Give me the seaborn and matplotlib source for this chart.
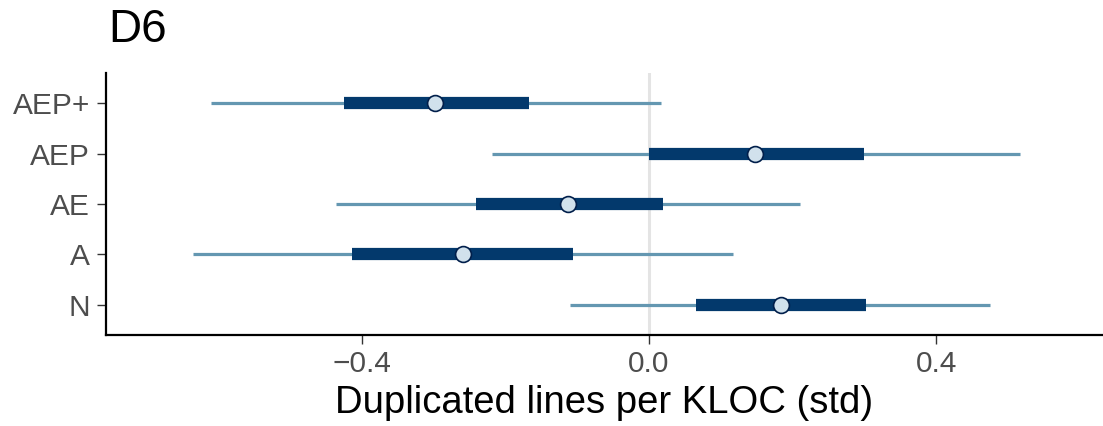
import numpy as np
import pandas as pd
import matplotlib
matplotlib.use("Agg")
import matplotlib.pyplot as plt
import seaborn as sns

# Posterior summaries per model variant (standardised effect)
models = ["AEP+", "AEP", "AE", "A", "N"]
median = [-0.298, 0.148, -0.113, -0.259, 0.184]
inner_lo = [-0.425, 0.000, -0.241, -0.414, 0.066]
inner_hi = [-0.167, 0.299, 0.019, -0.106, 0.302]
outer_lo = [-0.610, -0.218, -0.436, -0.635, -0.110]
outer_hi = [0.016, 0.517, 0.210, 0.117, 0.475]

xticks = [-0.4, 0.0, 0.4]
xtick_labels = ["\u22120.4", "0.0", "0.4"]

df = pd.DataFrame({
    "model": models,
    "median": median,
    "inner_lo": inner_lo,
    "inner_hi": inner_hi,
    "outer_lo": outer_lo,
    "outer_hi": outer_hi,
})
# top row first
df["pos"] = np.arange(len(df))[::-1]

sns.set_theme(style="white")
plt.rcParams["font.family"] = ["Liberation Sans", "DejaVu Sans"]

fig = plt.figure(figsize=(11.03, 4.26), dpi=100)
ax = fig.add_axes([0.0961, 0.2136, 0.9039, 0.615])

# reference line at zero
ax.axvline(0, color="#e4e4e4", lw=2.2, zorder=0)

# outer (90%) and inner (50%) intervals
ax.hlines(df["pos"], df["outer_lo"], df["outer_hi"], color="#6497b1",
          lw=2.3, zorder=1)
ax.hlines(df["pos"], df["inner_lo"], df["inner_hi"], color="#03396c",
          lw=8.8, zorder=2, capstyle="butt")

# medians
sns.scatterplot(data=df, x="median", y="pos", ax=ax, s=130,
                color="#d1e1ec", edgecolor="#011f4b", linewidth=1.2,
                zorder=3, legend=False)

ax.set_xlim(-0.756, 0.632)
ax.set_ylim(-0.6, 4.6)
ax.set_yticks(df["pos"])
ax.set_yticklabels(df["model"])
ax.set_xticks(xticks)
ax.set_xticklabels(xtick_labels)

for side in ["top", "right"]:
    ax.spines[side].set_visible(False)
for side in ["left", "bottom"]:
    ax.spines[side].set_color("black")
    ax.spines[side].set_linewidth(1.6)

ax.tick_params(axis="both", which="both", length=6.5, width=1.0,
               color="#333333", labelcolor="#4d4d4d", labelsize=21.5,
               left=True, bottom=True)
ax.tick_params(axis="y", pad=5)
ax.tick_params(axis="x", pad=4)

ax.set_xlabel("Duplicated lines per KLOC (std)", fontsize=27.5,
              color="black", labelpad=5)
ax.set_ylabel("")

fig.text(0.098, 0.878, "D6", fontsize=33, color="black",
         ha="left", va="bottom")

fig.savefig("out.png", dpi=100)
